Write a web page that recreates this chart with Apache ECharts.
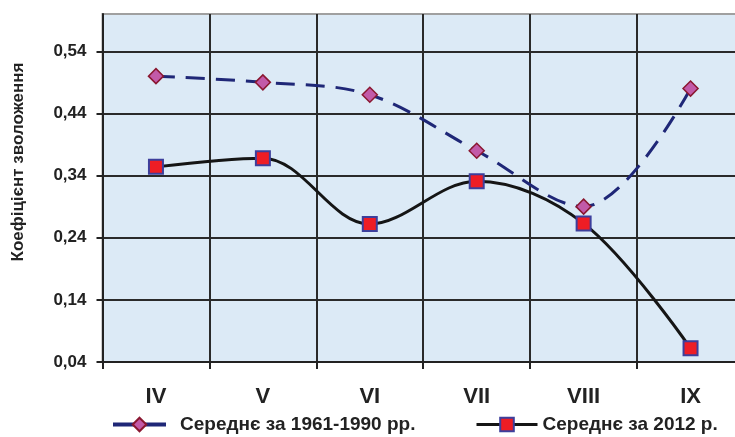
<!DOCTYPE html>
<html>
<head>
<meta charset="utf-8">
<script src="https://cdn.jsdelivr.net/npm/echarts@6/dist/echarts.min.js"></script>
<style>html,body{margin:0;padding:0;background:#fff;}#c{width:735px;height:437px;}</style>
</head>
<body>
<div id="c"></div>
<script>
const categories = ['IV', 'V', 'VI', 'VII', 'VIII', 'IX'];
const series1961 = [0.50, 0.49, 0.47, 0.38, 0.29, 0.48];
const series2012 = [0.354, 0.368, 0.262, 0.331, 0.263, 0.062];
const name1961 = 'Середнє за 1961-1990 рр.';
const name2012 = 'Середнє за 2012 р.';
const yName = 'Коефіцієнт зволоження';
const yMin = 0.04, yMax = 0.6, yStep = 0.1;

const FONT = 'Arial, "Liberation Sans", sans-serif';
const chart = echarts.init(document.getElementById('c'), null, {renderer: 'canvas'});
chart.setOption({
  animation: false,
  backgroundColor: '#ffffff',
  grid: {
    left: 102.5, right: -9, top: 14, bottom: 75,
    outerBoundsMode: 'none', containLabel: false,
    show: true, backgroundColor: '#dceaf6', borderColor: '#a0a0a0', borderWidth: 2
  },
  legend: [
    {
      left: 111, top: 415, padding: 0, itemWidth: 53, itemHeight: 17, itemGap: 0,
      data: [name1961],
      lineStyle: {type: 'solid', width: 4},
      textStyle: {fontFamily: FONT, fontWeight: 'bold', fontSize: 19, color: '#222', padding: [0, 0, 0, 9]}
    },
    {
      left: 475, top: 415, padding: 0, itemWidth: 61, itemHeight: 17, itemGap: 0,
      data: [name2012],
      lineStyle: {type: 'solid', width: 3},
      textStyle: {fontFamily: FONT, fontWeight: 'bold', fontSize: 19, color: '#222'}
    }
  ],
  xAxis: {
    type: 'category', data: categories, boundaryGap: true,
    axisLine: {lineStyle: {color: '#222', width: 2}},
    axisTick: {show: true, length: 7, lineStyle: {color: '#222', width: 2}},
    axisLabel: {fontFamily: FONT, fontWeight: 'bold', fontSize: 22, color: '#222', margin: 24},
    splitLine: {show: true, lineStyle: {color: '#2a2a2a', width: 2}}
  },
  yAxis: {
    type: 'value', min: yMin, max: yMax, interval: yStep,
    name: yName, nameLocation: 'middle', nameRotate: 90, nameGap: 76,
    nameTextStyle: {fontFamily: FONT, fontWeight: 'bold', fontSize: 17, color: '#222', padding: [0, 0, 0, 52]},
    axisLine: {show: true, lineStyle: {color: '#222', width: 2}},
    axisTick: {show: true, length: 6, lineStyle: {color: '#222', width: 2}},
    axisLabel: {
      fontFamily: FONT, fontWeight: 'bold', fontSize: 17, color: '#222', margin: 16, showMaxLabel: false,
      formatter: v => v.toFixed(2).replace('.', ',')
    },
    splitLine: {show: true, lineStyle: {color: ['#2a2a2a', '#2a2a2a', '#2a2a2a', '#2a2a2a', '#2a2a2a', '#2a2a2a', '#a0a0a0'], width: 2}}
  },
  series: [
    {
      name: name1961, type: 'line', data: series1961, smooth: 0.35,
      symbol: 'diamond', symbolSize: 15,
      lineStyle: {color: '#1f2777', width: 3, type: [19, 11]},
      itemStyle: {color: '#c25aa8', borderColor: '#8a1730', borderWidth: 1.5}
    },
    {
      name: name2012, type: 'line', data: series2012, smooth: 0.35,
      symbol: 'rect', symbolSize: 14,
      lineStyle: {color: '#151515', width: 3, type: 'solid'},
      itemStyle: {color: '#ee1d25', borderColor: '#3d3f9c', borderWidth: 2}
    }
  ]
});
</script>
</body>
</html>
